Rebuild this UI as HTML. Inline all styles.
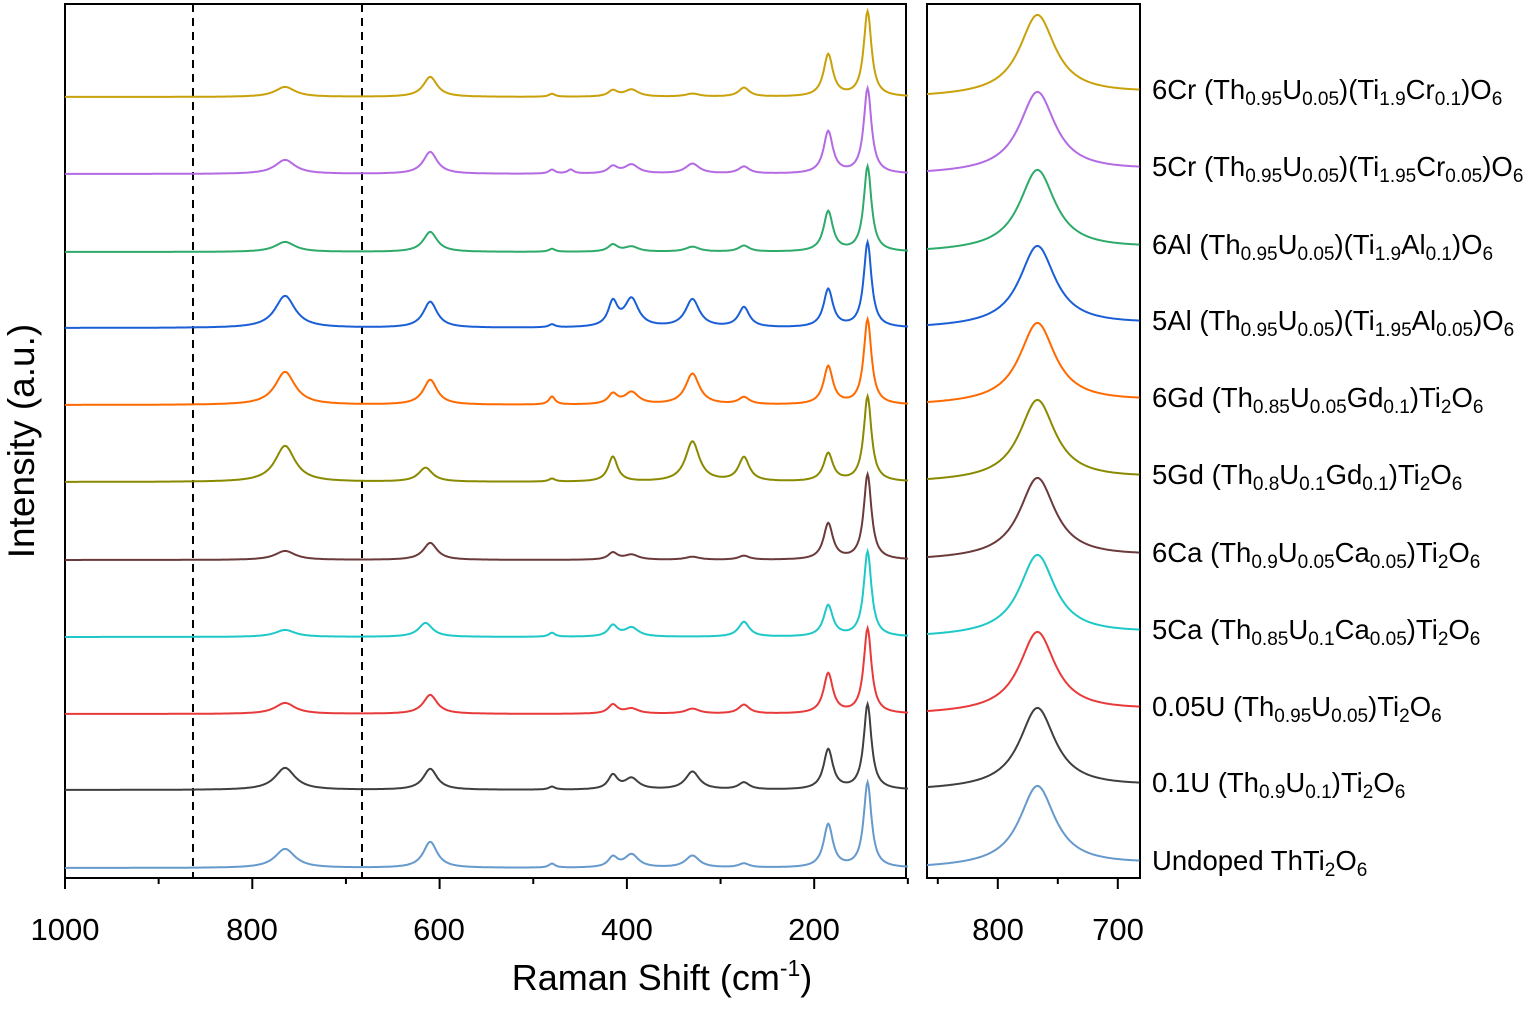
<!DOCTYPE html>
<html><head><meta charset="utf-8"><style>
body{margin:0;background:#fff}
svg text{font-family:"Liberation Sans",Arial,sans-serif;fill:#000}
</style></head><body>
<svg id="s" width="1534" height="1004" xmlns="http://www.w3.org/2000/svg">
<rect x="65" y="4" width="841" height="874" fill="none" stroke="#000" stroke-width="2"/>
<rect x="927" y="4" width="213" height="874" fill="none" stroke="#000" stroke-width="2"/>
<line x1="193" y1="4" x2="193" y2="878" stroke="#000" stroke-width="2" stroke-dasharray="8,6"/>
<line x1="362" y1="4" x2="362" y2="878" stroke="#000" stroke-width="2" stroke-dasharray="8,6"/>
<g id="ticks" stroke="#000" stroke-width="2"></g>
<g id="curves" fill="none" stroke-width="2"></g>
<g font-size="31" text-anchor="middle">
<text x="65" y="940">1000</text><text x="252" y="940">800</text><text x="439" y="940">600</text><text x="627" y="940">400</text><text x="814" y="940">200</text>
<text x="998" y="940">800</text><text x="1118" y="940">700</text>
</g>
<text x="662" y="990" font-size="36" text-anchor="middle">Raman Shift (cm<tspan font-size="23" dy="-14">-1</tspan><tspan dy="14">)</tspan></text>
<text transform="translate(34,441) rotate(-90)" font-size="37" text-anchor="middle">Intensity (a.u.)</text>
<g id="labels" font-size="27.5"></g>
</svg>
<script>
const xl=v=>65+(1000-v)*0.9365, xr=v=>927+(859-v)*1.2;
let t="";
[1000,900,800,700,600,500,400,300,200,100].forEach((v,i)=>{const x=xl(v);t+=`<line x1="${x}" y1="878" x2="${x}" y2="${i%2?884:889}"/>`});
[850,800,750,700].forEach(v=>{const x=xr(v);t+=`<line x1="${x}" y1="878" x2="${x}" y2="${v%100?884:889}"/>`});
document.getElementById("ticks").innerHTML=t;
const W={140:5,185:6,275:7,330:9,395:9,415:6,460:4,480:4,610:9,615:9,765:13};
const P={140:143};
const sb=s=>`<tspan dy='6' font-size='19'>${s}</tspan><tspan dy='-6'>`;
const S=[
["#c9a10a",97,{140:85,185:42,610:20,765:10,275:9,395:7,415:6,330:3,480:3},`6Cr (Th${sb('0.95')}U</tspan>${sb('0.05')})(Ti</tspan>${sb('1.9')}Cr</tspan>${sb('0.1')})O</tspan>${sb('6')}</tspan>`],
["#b36ae2",174,{140:85,185:42,610:22,765:14,395:9,415:7,330:10,275:7,480:4,460:4},`5Cr (Th${sb('0.95')}U</tspan>${sb('0.05')})(Ti</tspan>${sb('1.95')}Cr</tspan>${sb('0.05')})O</tspan>${sb('6')}</tspan>`],
["#2eaa6a",252,{140:85,185:40,610:20,765:10,415:7,395:5,330:5,275:6,480:3},`6Al (Th${sb('0.95')}U</tspan>${sb('0.05')})(Ti</tspan>${sb('1.9')}Al</tspan>${sb('0.1')})O</tspan>${sb('6')}</tspan>`],
["#1a5fd6",328,{140:85,185:38,610:26,765:32,415:24,395:28,330:28,275:20,480:3},`5Al (Th${sb('0.95')}U</tspan>${sb('0.05')})(Ti</tspan>${sb('1.95')}Al</tspan>${sb('0.05')})O</tspan>${sb('6')}</tspan>`],
["#ff6a00",405,{140:85,185:38,610:25,765:33,415:10,395:12,330:31,275:7,480:8},`6Gd (Th${sb('0.85')}U</tspan>${sb('0.05')}Gd</tspan>${sb('0.1')})Ti</tspan>${sb('2')}O</tspan>${sb('6')}</tspan>`],
["#8a8a00",482,{140:85,185:28,615:14,765:36,415:25,330:40,275:24,480:3},`5Gd (Th${sb('0.8')}U</tspan>${sb('0.1')}Gd</tspan>${sb('0.1')})Ti</tspan>${sb('2')}O</tspan>${sb('6')}</tspan>`],
["#6b3a3a",560,{140:85,185:36,610:17,765:9,415:7,395:5,330:3,275:4},`6Ca (Th${sb('0.9')}U</tspan>${sb('0.05')}Ca</tspan>${sb('0.05')})Ti</tspan>${sb('2')}O</tspan>${sb('6')}</tspan>`],
["#1ec8c8",637,{140:85,185:31,615:14,765:7,415:11,395:9,275:15,480:4},`5Ca (Th${sb('0.85')}U</tspan>${sb('0.1')}Ca</tspan>${sb('0.05')})Ti</tspan>${sb('2')}O</tspan>${sb('6')}</tspan>`],
["#e83a3a",714,{140:85,185:40,610:19,765:11,415:9,395:5,330:5,275:9},`0.05U (Th${sb('0.95')}U</tspan>${sb('0.05')})Ti</tspan>${sb('2')}O</tspan>${sb('6')}</tspan>`],
["#3f3f3f",790,{140:85,185:40,610:21,765:22,415:14,395:11,330:18,275:7,480:3},`0.1U (Th${sb('0.9')}U</tspan>${sb('0.1')})Ti</tspan>${sb('2')}O</tspan>${sb('6')}</tspan>`],
["#6699cc",868,{140:85,185:43,610:26,765:19,415:10,395:13,330:12,275:4,480:4},`Undoped ThTi${sb('2')}O</tspan>${sb('6')}</tspan>`]
];
let c="",l="";
S.forEach(([col,b,pk,lab])=>{
 let d="";
 for(let v=1000;v>=100;v-=1){let y=0;for(const k in pk){const w=W[k],dx=v-(P[k]||+k);y+=pk[k]/(1+dx*dx/(w*w));}
  d+=(v==1000?"M":"L")+xl(v).toFixed(1)+","+(b-y).toFixed(1);}
 c+=`<path d="${d}" stroke="${col}"/>`;
 let d2="";
 for(let v=859;v>=682;v-=1){const dx=v-767;const y=80/(1+dx*dx/(18*18))+(859-v)/177*4;
  d2+=(v==859?"M":"L")+xr(v).toFixed(1)+","+(b-y).toFixed(1);}
 c+=`<path d="${d2}" stroke="${col}"/>`;
 l+=`<text x="1152" y="${b+2}">${lab}</text>`;
});
document.getElementById("curves").innerHTML=c;
document.getElementById("labels").innerHTML=l;
</script>
</body></html>
